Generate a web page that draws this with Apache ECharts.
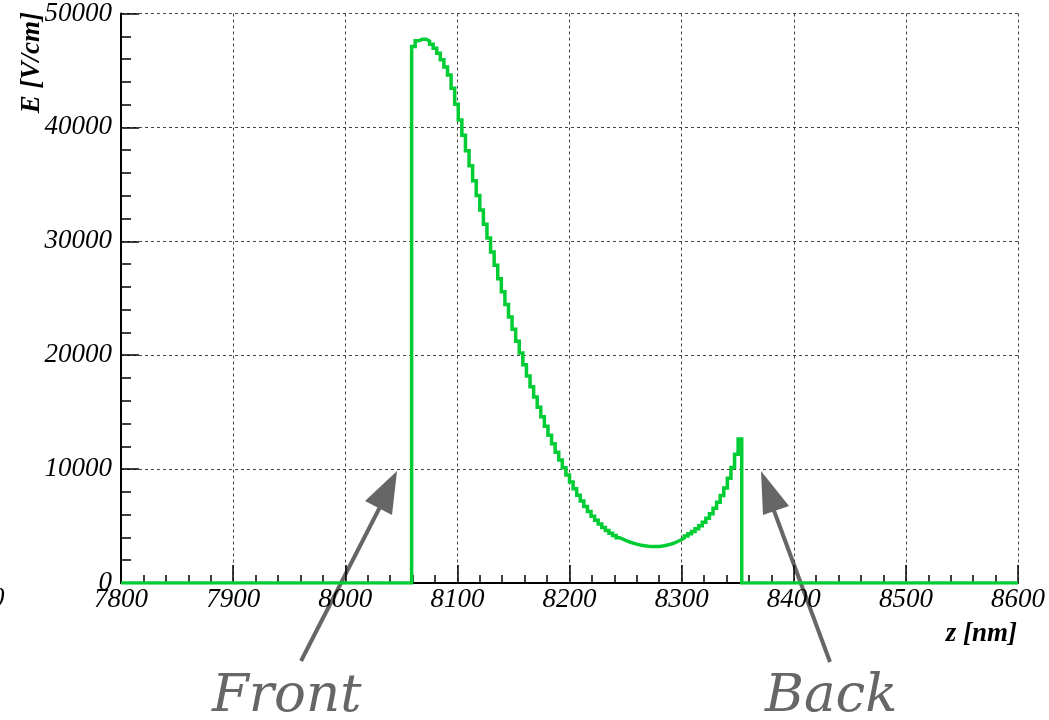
<!DOCTYPE html>
<html>
<head>
<meta charset="utf-8">
<script src="https://cdn.jsdelivr.net/npm/echarts@6/dist/echarts.min.js"></script>
<style>
html,body{margin:0;padding:0;background:#fff;}
#chart{width:1049px;height:720px;}
</style>
</head>
<body>
<div id="chart"></div>
<script>
// ---- data ----
const zMin = 7800;
const zMax = 8600;
const binWidth = 3.2;          // 250 bins over 7800..8600 nm
const firstFieldBin = 81;      // index of the first non-zero bin (front interface)
const fieldValues = [
  47100, 47600, 47750, 47750, 47580, 47300, 46950, 46500, 45950, 45300,
  44600, 43430, 42040, 40650, 39320, 37960, 36630, 35310, 34020, 32750,
  31500, 30280, 29070, 27890, 26720, 25580, 24460, 23360, 22280, 21230,
  20190, 19170, 18180, 17230, 16320, 15440, 14590, 13770, 12980, 12220,
  11490, 10790, 10120, 9480, 8870, 8270, 7710, 7190, 6710, 6270,
  5870, 5510, 5180, 4880, 4610, 4370, 4160, 3980, 3830, 3700,
  3580, 3480, 3390, 3320, 3270, 3230, 3210, 3200, 3210, 3250,
  3310, 3390, 3490, 3620, 3780, 3950, 4130, 4320, 4520, 4760,
  5030, 5340, 5690, 6080, 6560, 7080, 7680, 8350, 9200, 10150,
  11300, 12650
];
const xTickLabels = ['7800','7900','8000','8100','8200','8300','8400','8500','8600'];
const yTickLabels = ['0','10000','20000','30000','40000','50000'];
const xTitle = 'z [nm]';
const yTitle = 'E [V/cm]';
const annotations = ['Front', 'Back'];

// ---- build step (histogram) outline ----
const stepPts = [[zMin, 0]];
const startEdge = zMin + firstFieldBin * binWidth;
stepPts.push([startEdge, 0]);
fieldValues.forEach((v, i) => {
  const l = zMin + (firstFieldBin + i) * binWidth;
  const r = l + binWidth;
  stepPts.push([+l.toFixed(2), v]);
  stepPts.push([+r.toFixed(2), v]);
});
const endEdge = zMin + (firstFieldBin + fieldValues.length) * binWidth;
stepPts.push([+endEdge.toFixed(2), 0]);
stepPts.push([zMax, 0]);

const labelFont = '"Liberation Serif", "Times New Roman", serif';
const gridLine = { show: true, lineStyle: { color: '#444', width: 1, type: [3, 3] } };

const chart = echarts.init(document.getElementById('chart'), null, { renderer: 'canvas' });
chart.setOption({
  backgroundColor: '#ffffff',
  animation: false,
  grid: { left: 121, right: 31, top: 13, bottom: 137, containLabel: false },
  xAxis: {
    type: 'value',
    min: zMin, max: zMax, interval: 100,
    axisLine: { show: true, onZero: false, lineStyle: { color: '#000', width: 2 } },
    axisTick: { show: true, inside: true, length: 18, lineStyle: { color: '#000', width: 1.5 } },
    minorTick: { show: true, splitNumber: 5, length: 8, lineStyle: { color: '#000', width: 1.5 } },
    splitLine: gridLine,
    axisLabel: {
      color: '#000', fontFamily: labelFont, fontStyle: 'italic', fontSize: 27, margin: 3,
      formatter: (v) => { const i = Math.round((v - zMin) / 100); return xTickLabels[i] ?? ''; }
    }
  },
  yAxis: {
    type: 'value',
    min: 0, max: 50000, interval: 10000,
    axisLine: { show: true, onZero: false, lineStyle: { color: '#000', width: 2 } },
    axisTick: { show: true, inside: true, length: 18, lineStyle: { color: '#000', width: 1.5 } },
    minorTick: { show: true, splitNumber: 5, length: 10, lineStyle: { color: '#000', width: 1.5 } },
    splitLine: gridLine,
    axisLabel: {
      color: '#000', fontFamily: labelFont, fontStyle: 'italic', fontSize: 27, margin: 9,
      padding: [12, 0, 0, 0],
      formatter: (v) => { const i = Math.round(v / 10000); return yTickLabels[i] ?? ''; }
    }
  },
  series: [{
    type: 'line',
    data: stepPts,
    showSymbol: false,
    symbol: 'none',
    smooth: false,
    lineStyle: { color: '#00cc33', width: 3.5, join: 'miter' },
    z: 5
  }],
  graphic: [
    { type: 'text', x: 32, y: 12, rotation: Math.PI / 2,
      style: { text: yTitle, font: 'italic bold 27px ' + labelFont, fill: '#000', align: 'right', verticalAlign: 'middle' } },
    { type: 'text', x: 1017, y: 634,
      style: { text: xTitle, font: 'italic bold 27px ' + labelFont, fill: '#000', align: 'right', verticalAlign: 'middle' } },
    { type: 'text', x: -9, y: 599,
      style: { text: '0', font: 'italic 27px ' + labelFont, fill: '#000', align: 'left', verticalAlign: 'middle' } },
    // Front arrow
    { type: 'polyline', shape: { points: [[301, 661], [381, 505]] }, style: { stroke: '#666', lineWidth: 4, fill: null } },
    { type: 'polygon', shape: { points: [[397, 471], [365, 501], [392, 515]] }, style: { fill: '#666' } },
    // Back arrow
    { type: 'polyline', shape: { points: [[830, 662], [773, 508]] }, style: { stroke: '#666', lineWidth: 4, fill: null } },
    { type: 'polygon', shape: { points: [[761, 471], [763, 515], [789, 506]] }, style: { fill: '#666' } },
    { type: 'text', x: 212, y: 724,
      style: { text: annotations[0], font: 'italic 53px "DejaVu Serif", serif', fill: '#666', align: 'left', verticalAlign: 'bottom' } },
    { type: 'text', x: 765, y: 724,
      style: { text: annotations[1], font: 'italic 53px "DejaVu Serif", serif', fill: '#666', align: 'left', verticalAlign: 'bottom' } }
  ]
});
</script>
</body>
</html>
